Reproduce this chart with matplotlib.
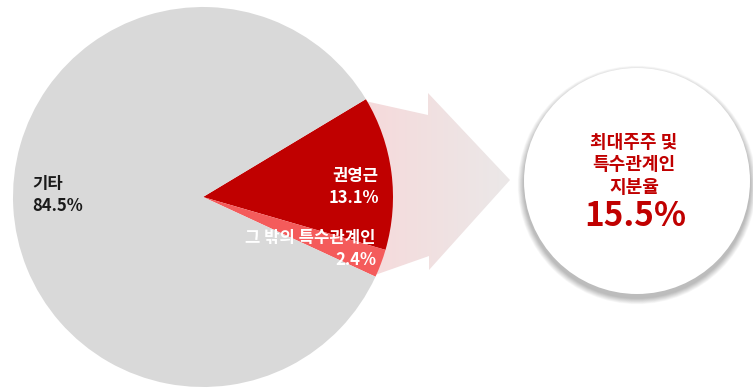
import numpy as np
import matplotlib.pyplot as plt
from matplotlib.patches import Polygon, Circle
from matplotlib.colors import LinearSegmentedColormap

plt.rcParams['font.family'] = ['Noto Sans CJK KR', 'DejaVu Sans']

# 지분 구성 (%)
labels = ['권영근', '그 밖의 특수관계인', '기타']
shares = [13.1, 2.4, 84.5]
colors = ['#C00000', '#F45B5B', '#D9D9D9']
total_label = '최대주주 및\n특수관계인\n지분율'
total_share = shares[0] + shares[1]

W, H = 753, 388
fig = plt.figure(figsize=(W / 100, H / 100), dpi=100)
ax = fig.add_axes([0, 0, 1, 1])

# pixel-like coordinates with y going up
cx, cy, r = 203, H - 197, 190

# arrow behind the pie, pink fading to grey
arrow_px = [(365, 101), (428, 115), (428, 93), (510, 180),
            (429, 270), (429, 256), (375, 275)]
arrow = Polygon([(x, H - y) for x, y in arrow_px], closed=True,
                facecolor='none', edgecolor='none')
ax.add_patch(arrow)
grad_cmap = LinearSegmentedColormap.from_list('fade', ['#F6DADB', '#EBE8E8'])
grad = np.linspace(0, 1, 256).reshape(1, -1)
img = ax.imshow(grad, cmap=grad_cmap, extent=[365, 510, H - 275, H - 93],
                aspect='auto', zorder=1)
img.set_clip_path(arrow)

wedges, _ = ax.pie(shares, colors=colors, startangle=31, counterclock=False,
                   center=(cx, cy), radius=r,
                   wedgeprops=dict(linewidth=0, zorder=2))

ax.text(32, H - 195, f'{labels[2]}\n{shares[2]}%', ha='left', va='center',
        fontsize=12, fontweight='bold', color='#1A1A1A', linespacing=1.35, zorder=3)
ax.text(379, H - 187, f'{labels[0]}\n{shares[0]}%', ha='right', va='center',
        fontsize=12, fontweight='bold', color='white', linespacing=1.35, zorder=3)
ax.text(376, H - 249, f'{labels[1]}\n{shares[1]}%', ha='right', va='center',
        fontsize=12, fontweight='bold', color='white', linespacing=1.35, zorder=3)

# summary circle with a soft shadow, heavier below
ccx, ccy, cr = 637, H - 181, 113
for k in range(14, 0, -1):
    ax.add_patch(Circle((ccx, ccy - 4), cr + k * 0.45, facecolor='#000000',
                        alpha=0.018, edgecolor='none', zorder=3))
ax.add_patch(Circle((ccx, ccy), cr, facecolor='white', edgecolor='none', zorder=4))

ax.text(634, H - 165, total_label, ha='center', va='center', fontsize=13,
        fontweight='heavy', color='#C00000', linespacing=1.25, zorder=5)
ax.text(635, H - 216, f'{total_share:.1f}%', ha='center', va='center',
        fontsize=24, fontweight='heavy', color='#C00000', zorder=5)

ax.set_xlim(0, W)
ax.set_ylim(0, H)
ax.set_aspect('equal')
ax.axis('off')

fig.savefig('out.png', dpi=100, facecolor='white')
